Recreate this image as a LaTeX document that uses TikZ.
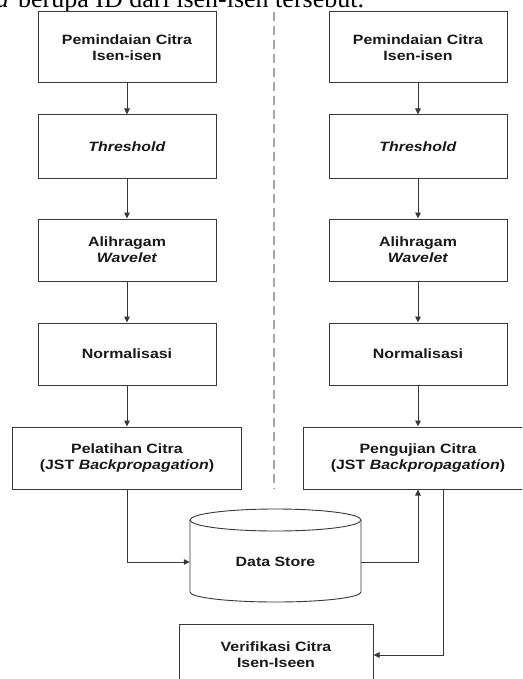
\documentclass[tikz,border=0pt]{standalone}
\usepackage{fontspec}
\setmainfont{Liberation Serif}
\newfontfamily\boxfont[FakeStretch=1.18]{Liberation Sans}
\usetikzlibrary{arrows.meta}
\definecolor{lineclr}{gray}{0.22}
\definecolor{txtclr}{gray}{0.1}
\tikzset{
  procbox/.style={draw=lineclr, line width=1pt, fill=white, inner sep=0pt, align=center,
    minimum width=178pt, minimum height=62pt, text=txtclr,
    font=\boxfont\bfseries\fontsize{13.5}{16}\selectfont},
  wideproc/.style={procbox, minimum width=230pt},
  flow/.style={draw=lineclr, line width=1pt, -{Triangle[length=6pt,width=5.5pt]}},
  divider/.style={draw=gray!70, line width=1.3pt, dash pattern=on 9pt off 5pt},
  storeline/.style={draw=lineclr, line width=0.9pt},
  storelabel/.style={inner sep=0pt, minimum width=171pt, minimum height=20pt, text=txtclr,
    font=\boxfont\bfseries\fontsize{13.5}{16}\selectfont},
  bodytext/.style={inner sep=0pt, font=\fontsize{26}{30}\selectfont, text=black}
}
\begin{document}
\begin{tikzpicture}[x=1pt,y=-1pt]
\useasboundingbox (0,0) rectangle (522,679);
\clip (0,0) rectangle (522,679);
\fill[white] (0,0) rectangle (522,679);

% cut-off text line at top
\node[bodytext, anchor=base west] (txt) at (18,7.5) {berupa ID dari isen-isen tersebut.};
\node[bodytext, anchor=base east] (txta) at (9,7.5) {\textit{a}};

% left column
\node[procbox, minimum height=71pt] (l1) at (127,47.5) {Pemindaian Citra\\Isen-isen};
\node[procbox, minimum height=63pt] (l2) at (127,146.5) {\textit{Threshold}};
\node[procbox] (l3) at (127,250) {Alihragam\\\textit{Wavelet}};
\node[procbox] (l4) at (127,354) {Normalisasi};
\node[procbox, minimum width=229pt] (l5) at (127,458) {Pelatihan Citra\\(JST \textit{Backpropagation})};

% right column
\node[procbox, minimum height=71pt] (r1) at (418,47.5) {Pemindaian Citra\\Isen-isen};
\node[procbox, minimum height=63pt] (r2) at (418,146.5) {\textit{Threshold}};
\node[procbox] (r3) at (418,250) {Alihragam\\\textit{Wavelet}};
\node[procbox] (r4) at (418,354) {Normalisasi};
\node[wideproc] (r5) at (418,458) {Pengujian Citra\\(JST \textit{Backpropagation})};

% divider
\coordinate (dtop) at (274,12);
\coordinate (dbot) at (274,489);
\draw[divider] (dtop) -- (dbot);

% data store cylinder
\draw[storeline] (275.5,520) ellipse [x radius=85.5pt, y radius=11pt];
\draw[storeline] (190,520) -- (190,592) arc[start angle=180, end angle=360, x radius=85.5pt, y radius=10pt] -- (361,520);
\node[storelabel] (ds) at (275.5,562) {Data Store};

% verification box
\node[procbox, minimum width=194pt] (ver) at (276,655) {Verifikasi Citra\\Isen-Iseen};

% connectors
\draw[flow] (l1.south) -- (l2.north);
\draw[flow] (l2.south) -- (l3.north);
\draw[flow] (l3.south) -- (l4.north);
\draw[flow] (l4.south) -- (l5.north);
\draw[flow] (r1.south) -- (r2.north);
\draw[flow] (r2.south) -- (r3.north);
\draw[flow] (r3.south) -- (r4.north);
\draw[flow] (r4.south) -- (r5.north);
\draw[flow] (l5.south) |- (ds.west);
\draw[flow] (ds.east) -| (r5.south);
\draw[flow] ([xshift=25pt]r5.south) |- (ver.east);
\end{tikzpicture}
\end{document}
